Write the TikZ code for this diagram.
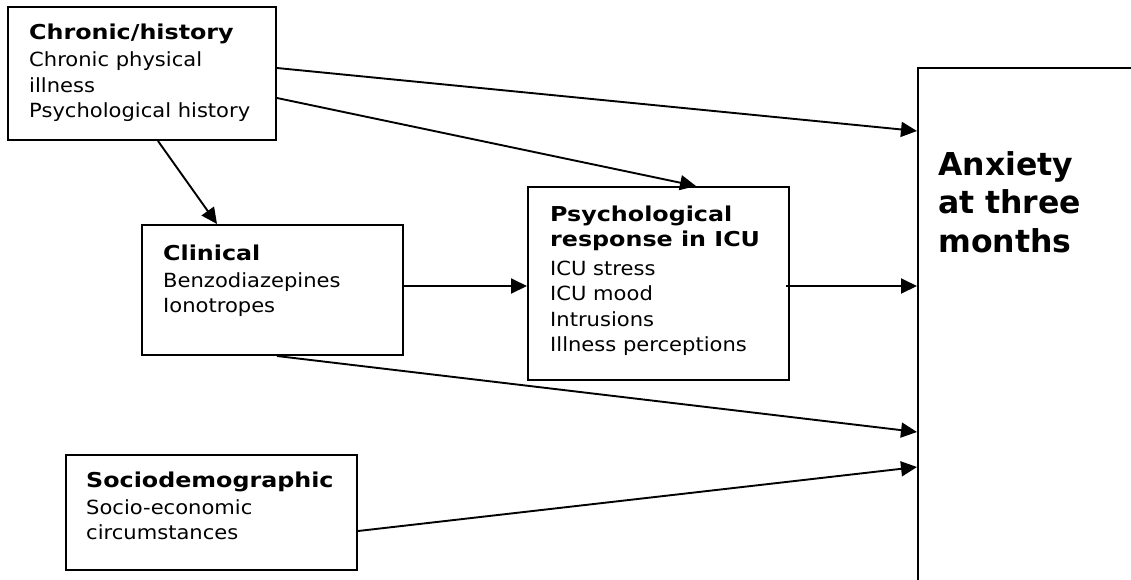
\documentclass[tikz,border=0pt]{standalone}
\usepackage{fontspec}
\setmainfont{DejaVu Sans}
\newfontfamily\regf{DejaVu Sans}[FakeStretch=1.08]
\newfontfamily\hdf{DejaVu Sans}[FakeStretch=1.16]
\newfontfamily\anxf{DejaVu Sans}
\usetikzlibrary{arrows.meta}
\newcommand{\hdtxt}[1]{{\hdf\bfseries\fontsize{20.5}{25.5}\selectfont #1}}
\tikzset{
 box/.style={draw, line width=2pt, inner sep=0pt, anchor=north west},
 lbl/.style={anchor=base west, inner sep=0pt, font={\regf\fontsize{19.5}{25.5}\selectfont}},
 bigl/.style={anchor=base west, inner sep=0pt, font={\anxf\bfseries\fontsize{31.5}{38.5}\selectfont}},
 arr/.style={line width=1.9pt, -{Triangle[length=16pt,width=15pt]}}
}
\begin{document}
\begin{tikzpicture}[x=1pt,y=-1pt]
\useasboundingbox (0,0) rectangle (1131,579);
\clip (0,0) rectangle (1131,579);
\fill[white] (0,0) rectangle (1131,579);
% boxes
\node[box, minimum width=268pt, minimum height=133pt] (chr) at (7,6) {};
\node[box, minimum width=261pt, minimum height=130pt] (cli) at (141,224) {};
\node[box, minimum width=261pt, minimum height=193pt] (psy) at (527,186) {};
\node[box, minimum width=291pt, minimum height=115pt] (soc) at (65,454) {};
\node[box, minimum width=400pt, minimum height=700pt] (anx) at (917,67) {};
% texts
\node[lbl] (chrT) at (29,39) {\begin{tabular}[t]{@{}l@{}}\hdtxt{Chronic/history}\\[2pt] Chronic physical\\ illness\\ Psychological history\end{tabular}};
\node[lbl] (cliT) at (163,260) {\begin{tabular}[t]{@{}l@{}}\hdtxt{Clinical}\\[1.5pt] Benzodiazepines\\ Ionotropes\end{tabular}};
\node[lbl] (psyT) at (550,221) {\begin{tabular}[t]{@{}l@{}}\hdtxt{Psychological}\\ \hdtxt{response in ICU}\\[3pt] ICU stress\\ ICU mood\\ Intrusions\\ Illness perceptions\end{tabular}};
\node[lbl] (socT) at (86,487) {\begin{tabular}[t]{@{}l@{}}\hdtxt{Sociodemographic}\\[1.5pt] Socio-economic\\ circumstances\end{tabular}};
\node[bigl] (anxT) at (938,175) {\begin{tabular}[t]{@{}l@{}}Anxiety\\ at three\\ months\end{tabular}};
% connectors
\draw[arr] ([yshift=-62pt]chr.north east) -- ([yshift=-64pt]anx.north west);
\draw[arr] ([yshift=-92pt]chr.north east) -- ([xshift=169pt]psy.north west);
\draw[arr] ([xshift=151pt]chr.south west) -- ([xshift=76pt]cli.north west);
\draw[arr] ([yshift=-62pt]cli.north east) -- ([yshift=-100pt]psy.north west);
\draw[arr] ([xshift=-4pt,yshift=-100pt]psy.north east) -- ([yshift=-219pt]anx.north west);
\draw[arr] ([xshift=136pt]cli.south west) -- ([yshift=-365pt]anx.north west);
\draw[arr] ([yshift=-77pt]soc.north east) -- ([yshift=-400pt]anx.north west);
\end{tikzpicture}
\end{document}
